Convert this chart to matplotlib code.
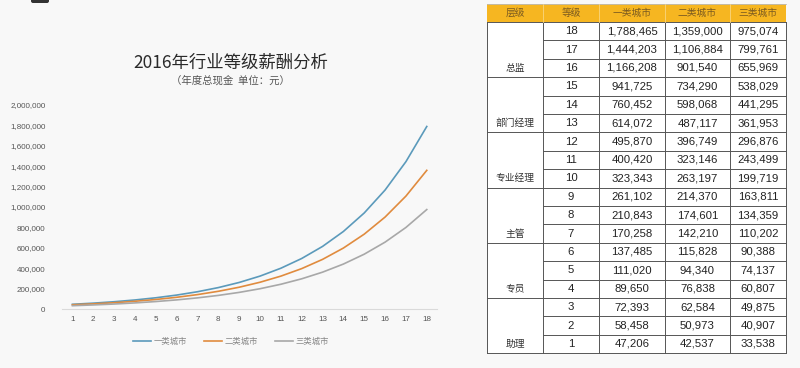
import matplotlib.pyplot as plt
from matplotlib.patches import Rectangle, FancyBboxPatch

plt.rcParams['font.family'] = ['Noto Sans CJK SC', 'DejaVu Sans']

# ---------------- data ----------------
levels = list(range(1, 19))
city1 = [47206, 58458, 72393, 89650, 111020, 137485, 170258, 210843, 261102,
         323343, 400420, 495870, 614072, 760452, 941725, 1166208, 1444203, 1788465]
city2 = [42537, 50973, 62584, 76838, 94340, 115828, 142210, 174601, 214370,
         263197, 323146, 396749, 487117, 598068, 734290, 901540, 1106884, 1359000]
city3 = [33538, 40907, 49875, 60807, 74137, 90388, 110202, 134359, 163811,
         199719, 243499, 296876, 361953, 441295, 538029, 655969, 799761, 975074]
series_names = ['一类城市', '二类城市', '三类城市']
colors = ['#5b9abb', '#e08b3e', '#a8a8a8']

groups = ['助理', '专员', '主管', '专业经理', '部门经理', '总监']   # 3 levels each
header = ['层级', '等级', '一类城市', '二类城市', '三类城市']
yticks = [0, 200000, 400000, 600000, 800000, 1000000, 1200000, 1400000,
          1600000, 1800000, 2000000]

bg = '#f8f8f8'
fig = plt.figure(figsize=(8, 3.68), dpi=100, facecolor=bg)

# ---------------- line chart ----------------
ax = fig.add_axes([0.0775, 0.160, 0.469, 0.555])
ax.set_facecolor(bg)
for vals, name, c in zip([city1, city2, city3], series_names, colors):
    ax.plot(levels, vals, color=c, lw=1.2, label=name)
ax.set_xlim(0.5, 18.5)
ax.set_ylim(0, 2000000)
ax.set_xticks(levels)
ax.set_yticks(yticks)
ax.set_yticklabels([f'{v:,}' for v in yticks])
for s in ['top', 'right', 'left']:
    ax.spines[s].set_visible(False)
ax.spines['bottom'].set_color('#dadada')
ax.spines['bottom'].set_linewidth(0.8)
ax.tick_params(axis='both', length=0, labelsize=5.8, labelcolor='#555555')
ax.tick_params(axis='y', pad=12)
ax.tick_params(axis='x', pad=5)
for lb in ax.get_xticklabels() + ax.get_yticklabels():
    lb.set_family(['Liberation Sans', 'DejaVu Sans'])
leg = ax.legend(loc='upper center', bbox_to_anchor=(0.45, -0.1), ncol=3, frameon=False,
                fontsize=6, handlelength=2.2, columnspacing=2.0, handletextpad=0.3)
for t in leg.get_texts():
    t.set_color('#888888')

fig.text(0.288, 0.83, '2016年行业等级薪酬分析', ha='center', va='center',
         fontsize=12.5, color='#2a2a2a', fontweight='light')
fig.text(0.288, 0.782, '（年度总现金  单位：元）', ha='center', va='center',
         fontsize=7.5, color='#555555')

# ---------------- table ----------------
tb = fig.add_axes([0, 0, 1, 1])
tb.set_xlim(0, 800)
tb.set_ylim(368, 0)
tb.axis('off')
tb.patch.set_alpha(0)

# small dark tab at top left
tb.add_patch(FancyBboxPatch((31, -6), 18, 9, boxstyle='round,pad=0,rounding_size=2',
                            color='#333333', lw=0))

xs = [487, 543, 599, 665, 730, 786]
top, hdr_bot, row_h = 4, 22, 18.4
nrows = len(levels)
bottom = hdr_bot + nrows * row_h
line_c = '#555555'

tb.add_patch(Rectangle((xs[0], hdr_bot), xs[-1] - xs[0], bottom - hdr_bot,
                       facecolor='white', edgecolor='none'))
tb.add_patch(Rectangle((xs[0], top), xs[-1] - xs[0], hdr_bot - top,
                       facecolor='#f6b621', edgecolor='none'))
for i, h in enumerate(header):
    tb.text((xs[i] + xs[i + 1]) / 2, (top + hdr_bot) / 2, h, ha='center', va='center',
            fontsize=7, color='#7a5a20')

# rows: top row is level 18
for r in range(nrows):
    lv = levels[nrows - 1 - r]
    yc = hdr_bot + (r + 0.5) * row_h
    vals = [str(lv), f'{city1[lv - 1]:,}', f'{city2[lv - 1]:,}', f'{city3[lv - 1]:,}']
    for j, v in enumerate(vals):
        tb.text((xs[j + 1] + xs[j + 2]) / 2, yc, v, ha='center', va='center',
                fontsize=8.2, color='#222222', family=['Liberation Sans', 'DejaVu Sans'])
    yline = hdr_bot + (r + 1) * row_h
    if (r + 1) % 3 == 0:
        tb.plot([xs[0], xs[-1]], [yline, yline], color=line_c, lw=0.7)
    else:
        tb.plot([xs[1], xs[-1]], [yline, yline], color=line_c, lw=0.7)

# group labels sit in the bottom row of each merged cell
for g, name in enumerate(groups):
    r = nrows - 1 - g * 3
    yc = hdr_bot + (r + 0.5) * row_h
    tb.text((xs[0] + xs[1]) / 2, yc, name, ha='center', va='center',
            fontsize=7, color='#333333')

tb.plot([xs[0], xs[-1]], [hdr_bot, hdr_bot], color=line_c, lw=0.7)
tb.plot([xs[0], xs[-1]], [top, top], color='#bbbbbb', lw=0.6)
for x in xs:
    tb.plot([x, x], [hdr_bot, bottom], color=line_c, lw=0.7)
for x in xs[1:-1]:
    tb.plot([x, x], [top, hdr_bot], color='#f9d680', lw=0.6)

fig.savefig('out.png', dpi=100, facecolor=bg)
